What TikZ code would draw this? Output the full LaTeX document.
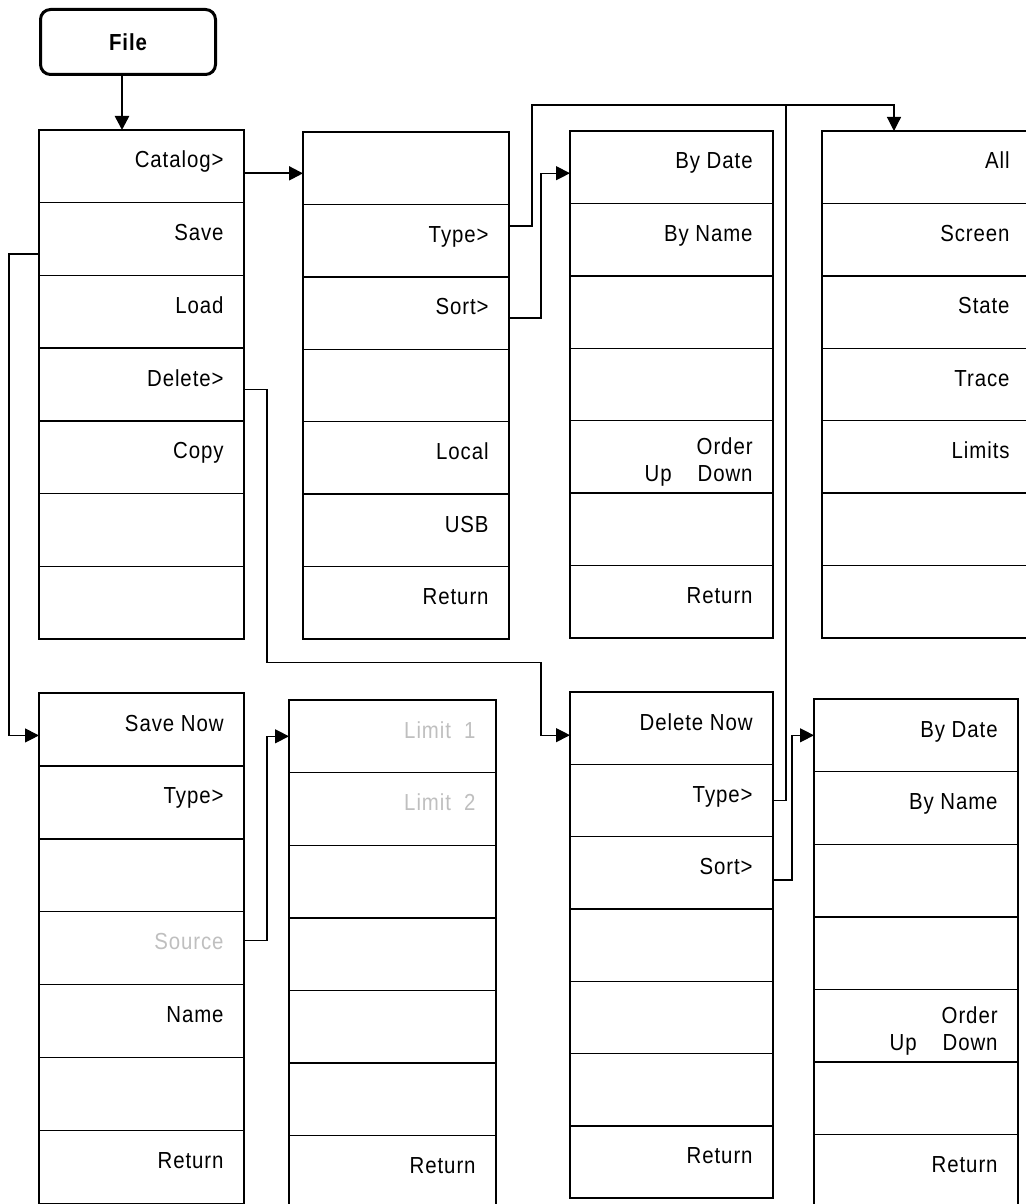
\documentclass[tikz,border=0pt]{standalone}
\usepackage{fontspec}
\setmainfont{Liberation Sans}[FakeStretch=0.88,LetterSpace=4]
\usetikzlibrary{arrows.meta}

\definecolor{dim}{gray}{0.75}

% two-line key label, baseline on its first line
\newcommand\updown{\raisebox{2pt}{\begin{tabular}[t]{@{}r@{}}Order\\Up\hspace{13pt}Down\end{tabular}}}

% one softkey menu: name, left x, right x, top y, key height, labels
\newcommand\menucol[6]{%
  \foreach \lab [count=\n] in {#6} {
    \node[cell, minimum width={(#3-#2)*0.5pt}, minimum height={#5*0.5pt}]
      (#1-\n) at ({(#2+#3)/2}, {#4+(\n-0.5)*#5}) {};
    \node[lbl] (#1-t\n) at ([xshift=-10pt, yshift=-19pt]#1-\n.north east) {\lab};
  }}

\begin{document}
\begin{tikzpicture}[
    x=0.5pt, y=-0.5pt,
    cell/.style={rectangle, draw=black, inner sep=0pt, outer sep=0pt, line width=0.7pt},
    lbl/.style={anchor=base east, inner sep=0pt, font=\fontsize{11.6}{13.5}\selectfont},
    filebox/.style={rectangle, rounded corners=5pt, draw=black, line width=1.5pt, minimum width=87.5pt, minimum height=32.5pt, font=\fontsize{11.6}{13.5}\selectfont\bfseries},
    link/.style={line width=0.6pt},
    arrow/.style={-{Triangle[length=7pt,width=7pt]}, line width=0.6pt}
]
    \useasboundingbox (0,0) rectangle (1025,1204);

    % hard key
    \node[filebox] (file) at (128,42) {File};

    % softkey menus
    \menucol{cat}{39}{244}{130}{72.7}{Catalog>, Save, Load, Delete>, Copy, {}, {}}
    \menucol{sub}{303}{509}{132}{72.4}{{}, Type>, Sort>, {}, Local, USB, Return}
    \menucol{sortc}{570}{773}{131}{72.4}{By Date, By Name, {}, {}, \updown, {}, Return}
    \menucol{typec}{822}{1030}{131}{72.4}{All, Screen, State, Trace, Limits, {}, {}}
    \menucol{savec}{39}{244}{693}{72.9}{Save Now, Type>, {}, \textcolor{dim}{Source}, Name, {}, Return}
    \menucol{limc}{289}{496}{700}{72.6}{\textcolor{dim}{Limit\ \ 1}, \textcolor{dim}{Limit\ \ 2}, {}, {}, {}, {}, Return}
    \menucol{delc}{570}{773}{692}{72.3}{Delete Now, Type>, Sort>, {}, {}, {}, Return}
    \menucol{dsortc}{814}{1018}{699}{72.6}{By Date, By Name, {}, {}, \updown, {}, Return}

    % Draw connections
    \coordinate (bus) at (786,105);
    \draw[arrow, line width=1.3pt] ([xshift=-3pt]file.south) -- ([xshift=-3pt]file.south |- cat-1.north);
    \draw[arrow, line width=1pt] ([yshift=-3.5pt]cat-1.east) -- ([yshift=-3.5pt]cat-1.east -| sub-1.west);
    \draw[arrow] ([yshift=-7.5pt]cat-2.west) -- ++(-30,0) |- ([yshift=-3pt]savec-1.west);
    \draw[arrow] ([yshift=-2.5pt]cat-4.east) -- ++(23,0) -- ++(0,273) -- ++(274,0) |- ([yshift=-3.5pt]delc-1.west);
    \draw[link] ([yshift=7.3pt]sub-2.east) -- ++(23,0) |- (bus);
    \draw[arrow] (bus) -| ([xshift=-16pt]typec-1.north);
    \draw[link] (delc-2.east) -- ++(13,0) -- (bus);
    \draw[arrow] ([yshift=-2.5pt]sub-3.east) -- ++(32,0) |- ([yshift=-3pt]sortc-1.west);
    \draw[arrow] ([yshift=-3.6pt]delc-3.east) -- ++(19,0) |- (dsortc-1.west);
    \draw[arrow] ([yshift=4pt]savec-4.east) -- ++(23,0) |- (limc-1.west);

\end{tikzpicture}
\end{document}
